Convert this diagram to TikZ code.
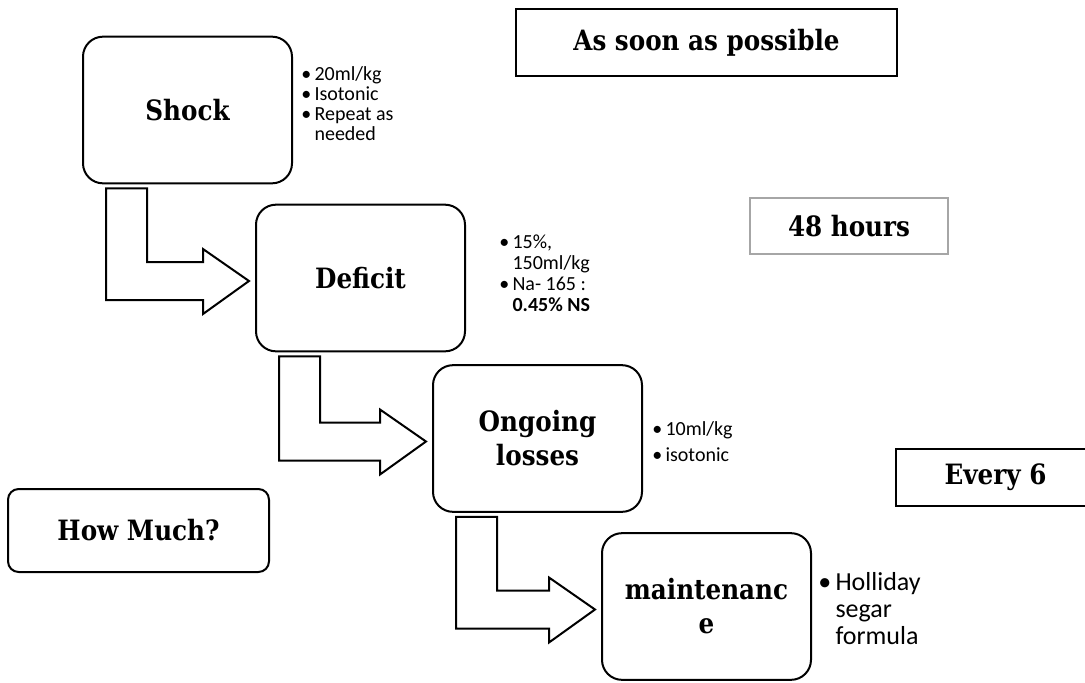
\documentclass[tikz,border=0pt]{standalone}
\usepackage{fontspec}
\usetikzlibrary{calc}
\newfontfamily\notefont{Carlito}
\newfontfamily\titlefont[FakeStretch=0.88]{DejaVu Serif Bold}
\definecolor{framegray}{HTML}{A6A6A6}

% hollow bent block arrow from under one stage box into the next one
\newcommand{\bendarrow}[2]{%
  \draw[blockarrow] ($(#1.south west)+(24,4)$) coordinate (s)
    -- ++(41,0) coordinate (s2)
    -- ($(s2 |- #2.west)+(0,-16)$)
    -- ($(#2.west)+(-52,-16)$)
    -- ($(#2.west)+(-52,-29)$)
    -- ($(#2.west)+(-6,3)$)
    -- ($(#2.west)+(-52,36)$)
    -- ($(#2.west)+(-52,22)$)
    -- ($(s |- #2.west)+(0,22)$)
    -- cycle;}

\begin{document}
\begin{tikzpicture}[x=0.75pt,y=-0.75pt,
  stagebox/.style={draw, line width=1.5pt, rounded corners=15pt, fill=white,
    minimum width=156.75pt, minimum height=110pt, inner sep=0pt, align=center,
    font=\titlefont\fontsize{21}{25.5}\selectfont},
  tagbox/.style={draw, line width=2pt, inner sep=0pt,
    font=\titlefont\fontsize{21}{25.5}\selectfont},
  blockarrow/.style={draw, line width=1.5pt, fill=white, line join=miter},
  notes/.style={inner sep=0pt, align=left, anchor=base west}]
\useasboundingbox (0,0) rectangle (1085,682);

% stage boxes
\node[stagebox] (shock)  at (187.5,110)   {Shock};
\node[stagebox] (deficit) at (360.5,278)  {Deficit};
\node[stagebox] (ongoing) at (537.5,438.5) {Ongoing\\losses};
\node[stagebox] (maint)  at (706.5,606.5) {maintenanc\\e};

% connectors
\bendarrow{shock}{deficit}
\bendarrow{deficit}{ongoing}
\bendarrow{ongoing}{maint}

% timing boxes
\node[tagbox, minimum width=285.75pt, minimum height=50.25pt] (asap) at (706.5,42.5) {As soon as possible};
\node[tagbox, draw=framegray, minimum width=148.5pt, minimum height=42pt] (hours) at (849,226) {48 hours};
\node[tagbox, minimum width=149.25pt, minimum height=42.75pt] (every) at (995.5,477.5) {Every 6};
\node[draw, line width=1.5pt, rounded corners=8pt, inner sep=0pt,
  minimum width=195.75pt, minimum height=62.25pt,
  font=\titlefont\fontsize{21}{25.5}\selectfont] (howmuch) at (138.5,530.5) {How Much?};

% bullet notes (anchored at the baseline of their last line)
\node[notes, font=\notefont\fontsize{15}{14.8}\selectfont] (shocknotes) at (301,140)
  {•\,20ml/kg\\•\,Isotonic\\•\,Repeat as\\\phantom{•\,}needed};
\node[notes, font=\notefont\fontsize{15}{15.75}\selectfont] (deficitnotes) at (499,311)
  {•\,15\%,\\\phantom{•\,}150ml/kg\\•\,Na- 165 :\\\phantom{•\,}\textbf{0.45\% NS}};
\node[notes, font=\notefont\fontsize{15}{15}\selectfont] (ongoingnotes) at (652,461)
  {•\,10ml/kg\\[4pt]•\,isotonic};
\node[notes, font=\notefont\fontsize{19.5}{20}\selectfont] (maintnotes) at (818,644)
  {•\,Holliday\\\phantom{•\,}segar\\\phantom{•\,}formula};
\end{tikzpicture}
\end{document}
